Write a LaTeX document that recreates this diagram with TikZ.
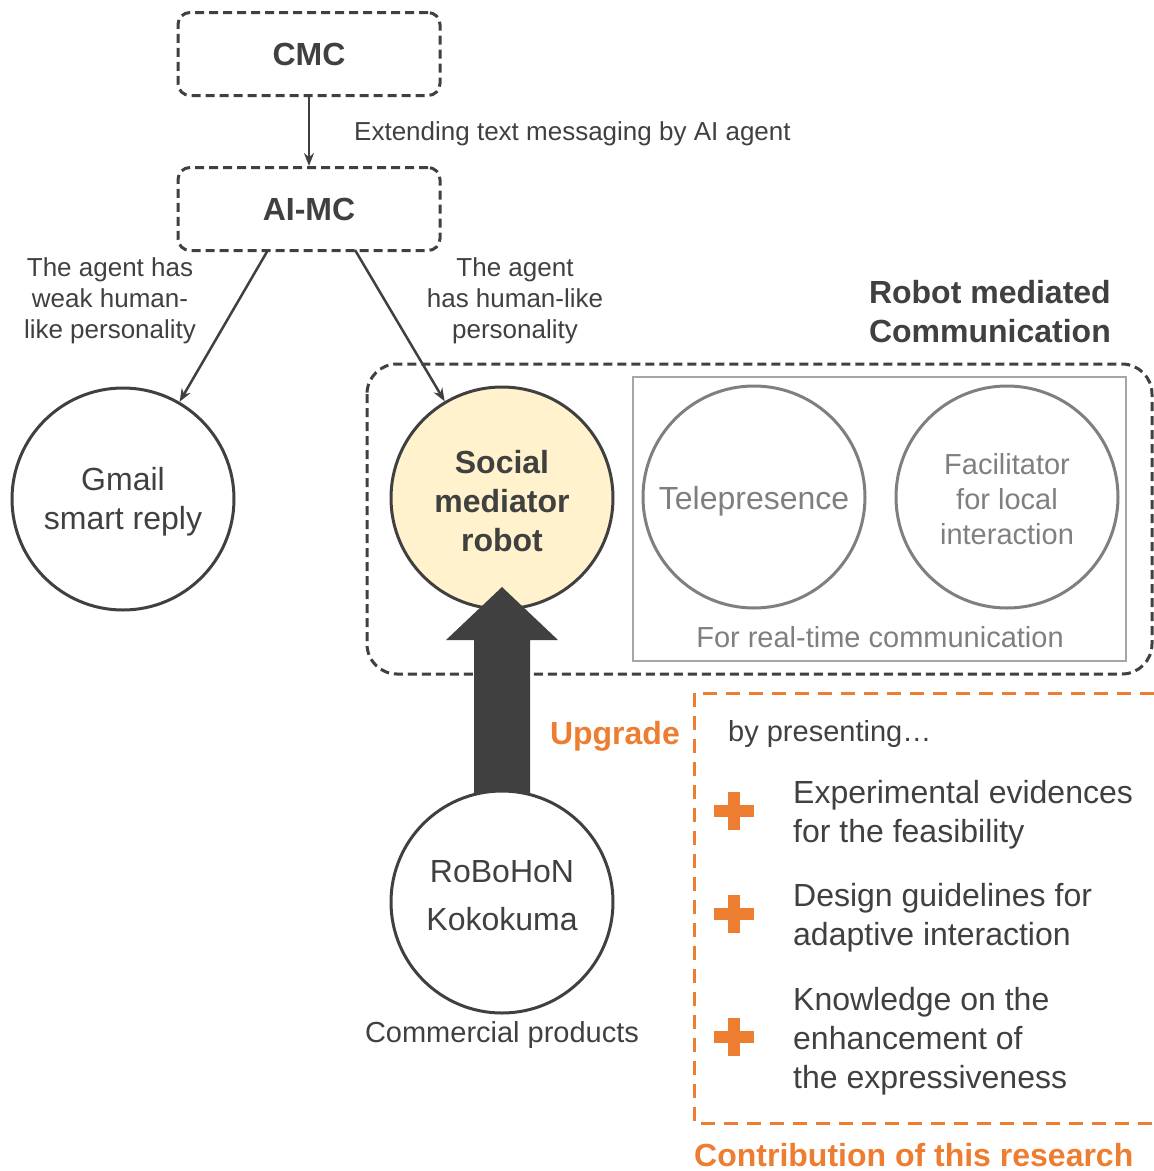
\documentclass[tikz,border=0pt]{standalone}
\usepackage{fontspec}
\setmainfont{Liberation Sans}
\usetikzlibrary{arrows.meta}
\definecolor{dark}{HTML}{404040}
\definecolor{midgray}{HTML}{7F7F7F}
\definecolor{lightgray}{HTML}{A6A6A6}
\definecolor{orng}{HTML}{ED7D31}
\definecolor{paleyellow}{HTML}{FFF2CC}
\tikzset{
  txt/.style={text=dark, inner sep=0pt, align=center},
  dbox/.style={draw=dark, line width=3pt, dash pattern=on 9pt off 5pt, rounded corners=12pt, minimum width=262pt, minimum height=83pt, inner sep=0pt, text=dark, font=\fontsize{32}{38}\selectfont\bfseries},
  bigcirc/.style={circle, draw=dark, line width=3pt, minimum size=222pt, inner sep=0pt, text=dark, align=center},
  graycirc/.style={circle, draw=midgray, line width=3pt, minimum size=222pt, inner sep=0pt, text=midgray, align=center},
  conn/.style={draw=dark, line width=2.5pt, -{Stealth[length=13pt,width=10pt]}},
  plusbar/.style={fill=orng, draw=none},
}
\begin{document}
\begin{tikzpicture}[x=1pt,y=-1pt]
\useasboundingbox (0,0) rectangle (1154,1171);

% top boxes
\node[dbox] (cmc) at (309,54) {CMC};
\node[dbox] (aimc) at (309,209) {AI-MC};
\draw[conn] (cmc) -- (aimc);
\node[txt, anchor=west, font=\fontsize{26}{31}\selectfont] (ext) at (354,134) {Extending text messaging by AI agent};

% branch labels
\node[txt, font=\fontsize{26}{31}\selectfont] (lbl) at (110,301) {The agent has\\weak human-\\like personality};
\node[txt, font=\fontsize{26}{31}\selectfont] (lbr) at (515,301) {The agent\\has human-like\\personality};
\node[txt, anchor=east, align=right, font=\fontsize{32}{39}\selectfont\bfseries] (rmc) at (1111,312) {Robot mediated\\Communication};

% RMC frame
\draw[draw=dark, line width=3pt, dash pattern=on 9pt off 5pt, rounded corners=30pt] (367,364) rectangle (1152,674);
\node[draw=lightgray, line width=2pt, minimum width=493pt, minimum height=284pt, inner sep=0pt] (rt) at (879.5,519) {};

% circles
\node[bigcirc] (gmail) at (123,499) {};
\node[txt, font=\fontsize{32}{39}\selectfont] (gmailtxt) at (123,502) {Gmail\\smart reply};
\node[bigcirc, fill=paleyellow] (social) at (502,498) {};
\node[txt, font=\fontsize{32}{39}\selectfont\bfseries] (socialtxt) at (502,501) {Social\\mediator\\robot};
\node[graycirc] (tele) at (754,497) {};
\node[txt, text=midgray, font=\fontsize{32}{38}\selectfont] (teletxt) at (754,501) {Telepresence};
\node[graycirc] (facil) at (1007,497) {};
\node[txt, text=midgray, font=\fontsize{29}{35}\selectfont] (faciltxt) at (1007,499) {Facilitator\\for local\\interaction};
\node[txt, text=midgray, font=\fontsize{29}{35}\selectfont] (rtc) at (880,637) {For real-time communication};

% connectors from AI-MC
\coordinate (aL) at (268,250);
\coordinate (aR) at (355,250);
\draw[conn] (aL) -- (gmail);
\draw[conn] (aR) -- (social);

% big upgrade arrow
\fill[dark] (474,820) -- (474,640) -- (446,640) -- (502,587) -- (558,640) -- (530,640) -- (530,820) -- cycle;
\node[bigcirc, fill=white] (robo) at (502,902) {};
\node[txt, font=\fontsize{32}{48}\selectfont] (robotxt) at (502,896) {RoBoHoN\\Kokokuma};
\node[txt, font=\fontsize{29}{35}\selectfont] (comm) at (502,1035) {Commercial products};
\node[txt, anchor=east, text=orng, font=\fontsize{32}{38}\selectfont\bfseries] (upg) at (680,736) {Upgrade};

% contribution frame
\draw[draw=orng, line width=3pt, dash pattern=on 14pt off 9pt] (1154,693) -- (694,693) -- (694,1123) -- (1154,1123);
\node[txt, anchor=west, font=\fontsize{29}{35}\selectfont] (bypres) at (728,734) {by presenting\ldots};

% plus signs
\foreach \yy in {811,914,1037}{
  \fill[plusbar] (714,\yy-6) rectangle (754,\yy+6);
  \fill[plusbar] (728,\yy-19) rectangle (740,\yy+19);
}
\node[txt, anchor=west, align=left, font=\fontsize{32}{39}\selectfont] (c1) at (793,814.5) {Experimental evidences\\for the feasibility};
\node[txt, anchor=west, align=left, font=\fontsize{32}{39}\selectfont] (c2) at (793,917.5) {Design guidelines for\\adaptive interaction};
\node[txt, anchor=west, align=left, font=\fontsize{32}{39}\selectfont] (c3) at (793,1041) {Knowledge on the\\enhancement of\\the expressiveness};
\node[txt, anchor=west, text=orng, font=\fontsize{32}{38}\selectfont\bfseries] (contrib) at (694,1155) {Contribution of this research};
\end{tikzpicture}
\end{document}
